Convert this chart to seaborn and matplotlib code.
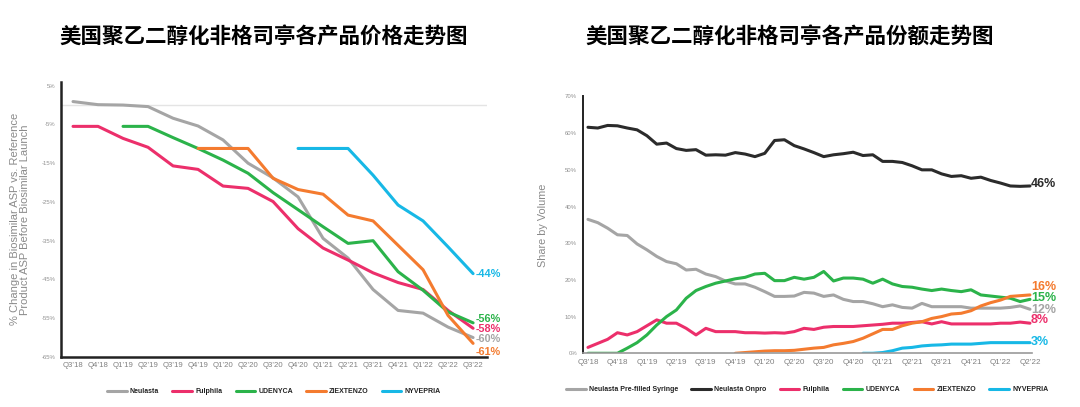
import numpy as np
import pandas as pd
import matplotlib
matplotlib.use("Agg")
import matplotlib.pyplot as plt
import seaborn as sns

# ---- left panel: price change per quarter (%) ----
quarters = ["Q3’18", "Q4’18", "Q1’19", "Q2’19", "Q3’19", "Q4’19", "Q1’20", "Q2’20", "Q3’20",
            "Q4’20", "Q1’21", "Q2’21", "Q3’21", "Q4’21", "Q1’22", "Q2’22", "Q3’22"]
price_neulasta = [0.9, 0.1, 0.0, -0.4, -3.4, -5.4, -9.0, -15.0, -18.8, -23.7, -34.4, -39.5, -47.6, -53.0, -53.7, -57.3, -60.0]
price_fulphila = [-5.5, -5.5, -8.6, -10.9, -15.7, -16.6, -20.9, -21.5, -24.9, -31.9, -36.9, -40.0, -43.3, -45.8, -47.6, -53.0, -57.6]
price_udenyca = [None, None, -5.5, -5.5, -8.4, -11.2, -14.2, -17.6, -22.6, -27.0, -31.4, -35.7, -35.0, -43.0, -47.8, -53.4, -56.2]
price_ziextenzo = [None, None, None, None, None, -11.2, -11.2, -11.2, -18.9, -21.8, -23.0, -28.4, -29.9, -36.2, -42.5, -54.3, -61.5]
price_nyvepria = [None, None, None, None, None, None, None, None, None, -11.2, -11.2, -11.2, -18.1, -25.8, -29.9, -36.6, -43.5]
price_end_labels = ["-60%", "-58%", "-56%", "-61%", "-44%"]
price_label_y = [-60.3, -57.7, -55.2, -63.6, -43.5]

# ---- right panel: monthly share by volume (%) ----
share_quarters = quarters[:-1]
share_onpro = [61.6, 61.4, 62.1, 62.0, 61.4, 60.9, 59.3, 57.0, 57.3, 55.8, 55.3, 55.5, 54.0, 54.1, 54.0, 54.7,
               54.3, 53.6, 54.5, 58.0, 58.2, 56.6, 55.7, 54.7, 53.6, 54.1, 54.4, 54.8, 53.9, 54.1, 52.3, 52.3,
               52.0, 51.1, 50.0, 50.0, 48.9, 48.2, 48.4, 47.7, 48.0, 47.1, 46.4, 45.6, 45.5, 45.6]
share_syringe = [36.5, 35.6, 34.1, 32.3, 32.1, 29.8, 28.2, 26.4, 25.0, 24.4, 22.7, 22.9, 21.6, 20.9, 19.7, 18.9,
                 18.9, 18.0, 16.8, 15.5, 15.5, 15.6, 16.6, 16.4, 15.5, 15.9, 14.7, 14.1, 14.1, 13.5, 12.7, 13.2,
                 12.5, 12.3, 13.6, 12.7, 12.7, 12.7, 12.7, 12.3, 12.3, 12.3, 12.3, 12.5, 12.9, 12.0]
share_fulphila = [1.6, 2.7, 3.8, 5.6, 5.0, 5.9, 7.5, 9.1, 8.2, 8.2, 6.8, 5.0, 6.8, 5.9, 5.9, 5.9,
                  5.6, 5.6, 5.5, 5.6, 5.5, 5.9, 6.8, 6.5, 7.1, 7.3, 7.3, 7.3, 7.5, 7.7, 7.9, 8.2,
                  8.2, 8.4, 8.6, 8.0, 8.6, 8.0, 8.0, 8.0, 8.0, 8.0, 8.2, 8.2, 8.5, 8.2]
share_udenyca = [0.0, 0.0, 0.0, 0.0, 1.4, 2.9, 5.0, 7.7, 10.0, 11.8, 15.0, 17.1, 18.2, 19.1, 19.7, 20.3,
                 20.7, 21.6, 21.8, 19.8, 19.8, 20.7, 20.2, 20.7, 22.3, 19.7, 20.5, 20.5, 20.2, 19.1, 20.2, 18.9,
                 18.2, 18.0, 17.5, 17.1, 17.5, 17.1, 16.8, 17.3, 15.9, 15.6, 15.3, 15.0, 14.1, 14.7]
share_ziextenzo = [None] * 15 + [0.0, 0.2, 0.4, 0.6, 0.7, 0.7, 0.8, 1.1, 1.4, 1.6, 2.3, 2.7, 3.2, 4.1, 5.3, 6.5,
                                 6.5, 7.5, 8.2, 8.6, 9.5, 10.0, 10.7, 10.9, 11.6, 12.9, 13.8, 14.5, 15.5, 15.7, 15.9]
share_nyvepria = [None] * 28 + [0.0, 0.0, 0.2, 0.7, 1.4, 1.6, 2.0, 2.2, 2.3, 2.5, 2.5, 2.5, 2.7, 2.9, 2.9, 2.9, 2.9, 2.9]
share_end_labels = ["12%", "46%", "8%", "15%", "16%", "3%"]
share_label_y = [11.9, 46.2, 9.0, 15.0, 18.2, 3.2]

price_names = ["Neulasta", "Fulphila", "UDENYCA", "ZIEXTENZO", "NYVEPRIA"]
share_names = ["Neulasta Pre-filled Syringe", "Neulasta Onpro", "Fulphila", "UDENYCA", "ZIEXTENZO", "NYVEPRIA"]

colors = {
    "Neulasta": "#a5a5a5",
    "Neulasta Pre-filled Syringe": "#a5a5a5",
    "Neulasta Onpro": "#2b2b2b",
    "Fulphila": "#ec2f6b",
    "UDENYCA": "#2bb34a",
    "ZIEXTENZO": "#f47b2f",
    "NYVEPRIA": "#17b8e6",
}

LATIN = ["Liberation Sans", "DejaVu Sans"]
CJK = ["Noto Sans CJK SC", "DejaVu Sans"]


def long_frame(names, series):
    rows = []
    for name, vals in zip(names, series):
        for i, v in enumerate(vals):
            if v is not None:
                rows.append({"x": i, "value": v, "product": name})
    return pd.DataFrame(rows)


sns.set_theme(style="white")
plt.rcParams["font.family"] = LATIN
plt.rcParams["axes.unicode_minus"] = False

fig = plt.figure(figsize=(10.8, 4.07), dpi=100)
ax1 = fig.add_axes([0.0565, 0.123, 0.3945, 0.676])
ax2 = fig.add_axes([0.5395, 0.132, 0.416, 0.631])

# ---- left chart ----
price_df = long_frame(price_names, [price_neulasta, price_fulphila, price_udenyca, price_ziextenzo, price_nyvepria])
ax1.axhline(0, color="#e4e4e4", lw=1, zorder=0)
sns.lineplot(data=price_df, x="x", y="value", hue="product", hue_order=price_names,
             palette=colors, estimator=None, linewidth=2.2, ax=ax1)
ax1.set_xlim(-0.48, 16.56)
ax1.set_ylim(-65, 6)
ax1.set_xticks(range(len(quarters)))
ax1.set_xticklabels(quarters, fontsize=5.6, color="#808080")
yt = [5, -5, -15, -25, -35, -45, -55, -65]
ax1.set_yticks(yt)
ax1.set_yticklabels([f"{v}%" for v in yt], fontsize=4.3, color="#909090")
ax1.tick_params(length=0, pad=4)
ax1.set_xlabel("")
ax1.set_ylabel("% Change in Biosimilar ASP vs. Reference\nProduct ASP Before Biosimilar Launch",
               fontsize=8, color="#8a8a8a", labelpad=8, linespacing=1.1)
for s in ["top", "right"]:
    ax1.spines[s].set_visible(False)
for s in ["left", "bottom"]:
    ax1.spines[s].set_color("#222222")
    ax1.spines[s].set_linewidth(1.8)
for name, lab, ly in zip(price_names, price_end_labels, price_label_y):
    ax1.text(16.1, ly, lab, color=colors[name], fontsize=7.8, fontweight="bold",
             va="center", ha="left", clip_on=False)
sns.move_legend(ax1, "upper center", bbox_to_anchor=(0.5, -0.09), ncol=5, frameon=False,
                title=None, fontsize=5.0, handlelength=2.8, handletextpad=0.5, columnspacing=1.9)
for t in ax1.get_legend().get_texts():
    t.set_fontweight("bold")
    t.set_color("#222222")

# ---- right chart ----
share_df = long_frame(share_names, [share_syringe, share_onpro, share_fulphila, share_udenyca,
                                    share_ziextenzo, share_nyvepria])
sns.lineplot(data=share_df, x="x", y="value", hue="product", hue_order=share_names,
             palette=colors, estimator=None, linewidth=2.2, ax=ax2)
ax2.set_xlim(-0.54, 45.2)
ax2.set_ylim(0, 70)
ax2.set_xticks(range(0, 46, 3))
ax2.set_xticklabels(share_quarters, fontsize=5.8, color="#808080")
ax2.set_yticks(range(0, 71, 10))
ax2.set_yticklabels([f"{v}%" for v in range(0, 71, 10)], fontsize=4.3, color="#909090")
ax2.tick_params(length=0, pad=4)
ax2.set_xlabel("")
ax2.set_ylabel("Share by Volume", fontsize=7.8, color="#8a8a8a", labelpad=12)
for s in ["top", "right"]:
    ax2.spines[s].set_visible(False)
ax2.spines["left"].set_color("#222222")
ax2.spines["left"].set_linewidth(1.4)
ax2.spines["bottom"].set_color("#9a9a9a")
ax2.spines["bottom"].set_linewidth(1.2)
for name, lab, ly in zip(share_names, share_end_labels, share_label_y):
    ax2.text(45.1, ly, lab, color=colors[name], fontsize=9, fontweight="bold",
             va="center", ha="left", clip_on=False)
sns.move_legend(ax2, "upper center", bbox_to_anchor=(0.5, -0.105), ncol=6, frameon=False,
                title=None, fontsize=5.0, handlelength=2.8, handletextpad=0.5, columnspacing=1.9)
for t in ax2.get_legend().get_texts():
    t.set_fontweight("bold")
    t.set_color("#222222")

# ---- titles ----
fig.text(0.244, 0.908, "美国聚乙二醇化非格司亭各产品价格走势图", ha="center", va="center",
         fontsize=15.5, fontweight="bold", color="black", family=CJK)
fig.text(0.731, 0.908, "美国聚乙二醇化非格司亭各产品份额走势图", ha="center", va="center",
         fontsize=15.5, fontweight="bold", color="black", family=CJK)

fig.savefig("out.png", dpi=100, facecolor="white")
